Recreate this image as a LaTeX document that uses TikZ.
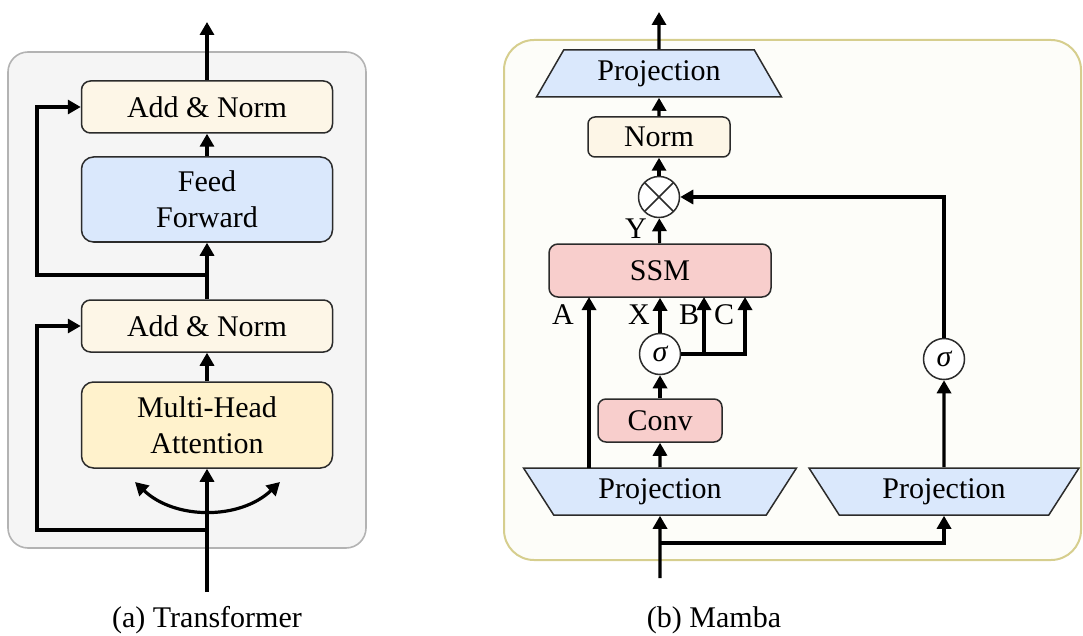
\documentclass[tikz,border=0pt]{standalone}
\usepackage{fontspec}
\setmainfont{Liberation Serif}
\newfontfamily\figserif{Liberation Serif}
\usetikzlibrary{arrows.meta,shapes.geometric,calc}
\definecolor{tgfill}{HTML}{F5F5F5}
\definecolor{tgdraw}{HTML}{B3B3B3}
\definecolor{mfill}{HTML}{FDFDF9}
\definecolor{mdraw}{HTML}{D6CE8E}
\definecolor{cream}{HTML}{FDF6E7}
\definecolor{lblue}{HTML}{DAE8FC}
\definecolor{lyel}{HTML}{FFF2CC}
\definecolor{lpink}{HTML}{F8CECC}
\definecolor{edge}{HTML}{2B2B2B}
\tikzset{
  txt/.style={font=\figserif\fontsize{30}{36}\selectfont},
  blk/.style={txt,draw=edge,line width=1.5pt,rounded corners=9pt,inner sep=0pt,align=center},
  proj/.style={txt,trapezium,draw=edge,fill=lblue,line width=1.5pt,trapezium stretches body,minimum height=47pt,inner sep=0pt},
  circ/.style={txt,circle,draw=edge,line width=1.5pt,fill=white,minimum size=41pt,inner sep=0pt},
  conn/.style={line width=3.2pt,black},
  arr/.style={conn,-{Triangle[length=13pt,width=14pt]}},
  darr/.style={conn,{Triangle[length=13pt,width=14pt]}-{Triangle[length=13pt,width=14pt]}},
}
\begin{document}
\begin{tikzpicture}[x=1pt,y=-1pt]
\useasboundingbox (0,0) rectangle (1083,636);
% ---------- Transformer ----------
\draw[fill=tgfill,draw=tgdraw,line width=1.6pt,rounded corners=20pt] (8,52) rectangle (366,548);
\node[blk,fill=cream,minimum width=251pt,minimum height=52pt] (an2) at (207,107) {Add \& Norm};
\node[blk,fill=lblue,minimum width=251pt,minimum height=85pt,rounded corners=12pt] (ff) at (207,199.5) {Feed\\Forward};
\node[blk,fill=cream,minimum width=251pt,minimum height=52pt] (an1) at (207,326) {Add \& Norm};
\node[blk,fill=lyel,minimum width=251pt,minimum height=86pt,rounded corners=12pt] (mha) at (207,425) {Multi-Head\\Attention};
\coordinate (tin) at (207,592);
\coordinate (tout) at (207,22);
\coordinate (r1s) at (207,530);
\coordinate (r1c) at (37,530);
\coordinate (r2s) at (207,275);
\coordinate (r2c) at (37,275);
\coordinate (al) at (135,482);
\coordinate (ar) at (280,482);
\draw[arr] (tin) -- (mha);
\draw[arr] (mha) -- (an1);
\draw[arr] (an1) -- (ff);
\draw[arr] (ff) -- (an2);
\draw[arr] (an2) -- (tout);
\draw[arr] (r1s) -- (r1c) |- (an1.west);
\draw[arr] (r2s) -- (r2c) |- (an2.west);
\draw[darr] (al) .. controls (175,520) and (240,520) .. (ar);
\node[txt] (capa) at (207,620) {(a) Transformer};
% ---------- Mamba ----------
\draw[fill=mfill,draw=mdraw,line width=2pt,rounded corners=30pt] (504,40) rectangle (1081,560);
\node[proj,minimum width=245pt,trapezium angle=44] (pT) at (659,73.5) {Projection};
\node[blk,fill=cream,minimum width=142pt,minimum height=40pt,rounded corners=7pt] (norm) at (659,137) {Norm};
\node[circ,path picture={
  \draw[edge,line width=1.5pt] (path picture bounding box.north west) -- (path picture bounding box.south east);
  \draw[edge,line width=1.5pt] (path picture bounding box.north east) -- (path picture bounding box.south west);}] (mul) at (659,197) {};
\node[blk,fill=lpink,minimum width=222pt,minimum height=53pt] (ssm) at (660,270.5) {SSM};
\node[circ] (sg1) at (660,354) {\itshape σ};
\node[blk,fill=lpink,minimum width=124pt,minimum height=43pt,rounded corners=8pt] (conv) at (660,420.5) {Conv};
\node[proj,minimum width=273pt,trapezium angle=41,shape border rotate=180] (pL) at (660,491.5) {Projection};
\node[proj,minimum width=270pt,trapezium angle=41,shape border rotate=180] (pR) at (944,491.5) {Projection};
\node[circ] (sg2) at (944,359) {\itshape σ};
\coordinate (min) at (660,578);
\coordinate (mout) at (659,12);
\coordinate (br) at (660,543);
\draw[arr] (min) -- (pL);
\draw[arr] (br) -| (pR);
\draw[arr] (pL) -- (conv);
\draw[arr] (conv) -- (sg1);
\draw[arr] (sg1) -- (ssm);
\draw[arr] ($(pL.center)+(-71,-23.5)$) -- ($(ssm.center)+(-71,26.5)$);
\draw[arr] (sg1.east) -| ($(ssm.center)+(85,26.5)$);
\draw[arr] ($(sg1.center)+(44,0)$) -- ($(ssm.center)+(44,26.5)$);
\draw[arr] (ssm) -- (mul);
\draw[arr] (mul) -- (norm);
\draw[arr] (norm) -- (pT);
\draw[arr] (pT) -- (mout);
\draw[arr] (pR) -- (sg2);
\draw[arr] (sg2) |- (mul);
\node[txt] (lA) at (563,315) {A};
\node[txt] (lX) at (639,315) {X};
\node[txt] (lB) at (689,315) {B};
\node[txt] (lC) at (724,315) {C};
\node[txt] (lY) at (636,229) {Y};
\node[txt] (capb) at (714,620) {(b) Mamba};
\end{tikzpicture}
\end{document}
